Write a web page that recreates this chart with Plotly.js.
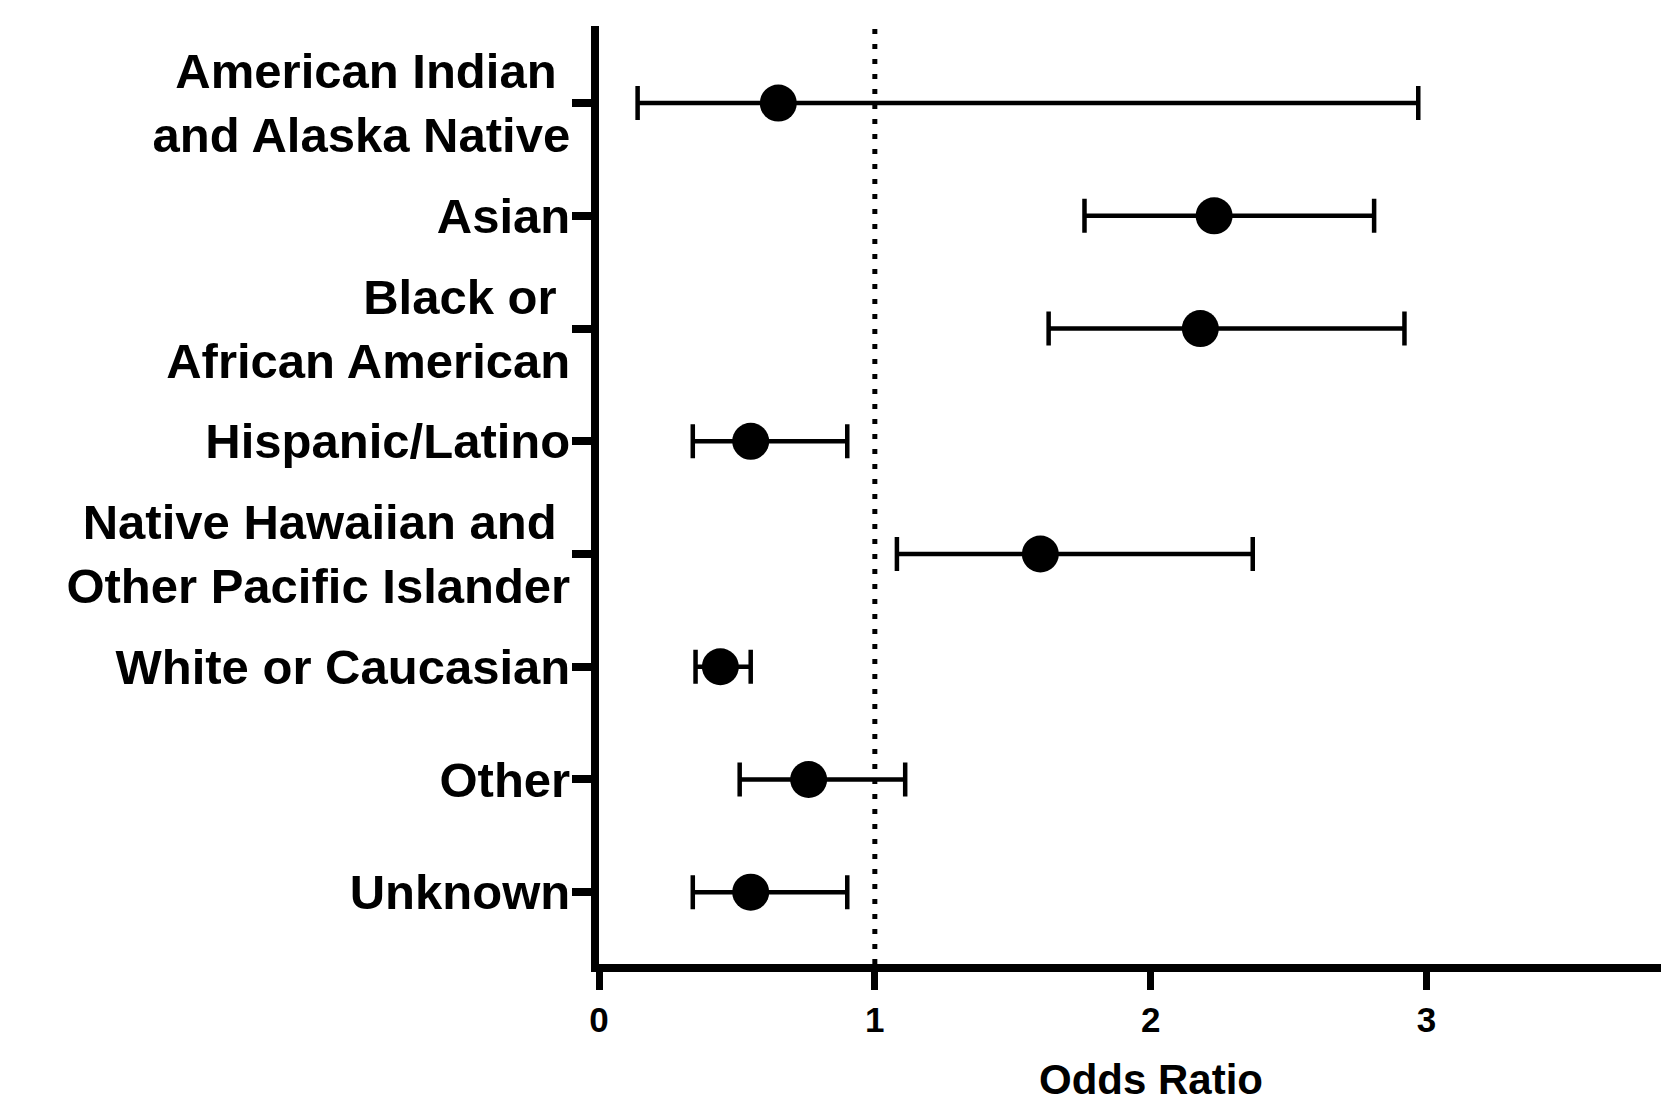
<!DOCTYPE html>
<html>
<head>
<meta charset="utf-8">
<script src="https://cdn.plot.ly/plotly-3.0.1.min.js"></script>
<style>html,body{margin:0;padding:0;background:#fff;}#chart{width:1661px;height:1112px;}</style>
</head>
<body>
<div id="chart"></div>
<script>
// ---- data ----
const categories = [
  "American Indian\u00a0<br>and Alaska Native",
  "Asian",
  "Black or\u00a0<br>African American",
  "Hispanic/Latino",
  "Native Hawaiian and\u00a0<br>Other Pacific Islander",
  "White or Caucasian",
  "Other",
  "Unknown"
];
const oddsRatio = [0.65, 2.23, 2.18, 0.55, 1.60, 0.44, 0.76, 0.55];
const ciLower   = [0.14, 1.76, 1.63, 0.34, 1.08, 0.35, 0.51, 0.34];
const ciUpper   = [2.97, 2.81, 2.92, 0.90, 2.37, 0.55, 1.11, 0.90];
const xTicks = [0, 1, 2, 3];
const refLine = 1;
const xTitle = "Odds Ratio";

const positions = categories.map((_, i) => i);
const errPlus = oddsRatio.map((v, i) => ciUpper[i] - v);
const errMinus = oddsRatio.map((v, i) => v - ciLower[i]);

const FONT = "Liberation Sans, Arial, Helvetica, sans-serif";

const trace = {
  type: "scatter",
  mode: "markers",
  x: oddsRatio,
  y: positions,
  marker: {color: "#000", size: 37, symbol: "circle"},
  error_x: {
    type: "data", symmetric: false,
    array: errPlus, arrayminus: errMinus,
    color: "#000", thickness: 4.5, width: 17
  },
  hoverinfo: "skip",
  showlegend: false,
  cliponaxis: false
};

const layout = {
  width: 1661, height: 1112,
  paper_bgcolor: "#fff", plot_bgcolor: "#fff",
  margin: {l: 599, r: 0, t: 26, b: 148},
  xaxis: {
    range: [0, 3.85],
    tickvals: xTicks,
    ticktext: xTicks.map(String),
    showgrid: false, zeroline: false,
    showline: true, linecolor: "#000", linewidth: 8,
    ticks: "outside", ticklen: 18, tickwidth: 7, tickcolor: "#000",
    tickfont: {family: FONT, size: 35, color: "#000", weight: 700},
    fixedrange: true
  },
  yaxis: {
    range: [7.637, -0.684],
    tickvals: positions,
    ticktext: categories,
    showgrid: false, zeroline: false,
    showline: true, linecolor: "#000", linewidth: 8,
    ticks: "outside", ticklen: 19, tickwidth: 8, tickcolor: "#000",
    ticklabelstandoff: -8,
    tickfont: {family: FONT, size: 49, color: "#000", weight: 700},
    fixedrange: true
  },
  shapes: [{
    type: "line", xref: "x", yref: "paper",
    x0: refLine, x1: refLine, y0: 0, y1: 1,
    line: {color: "#000", width: 5, dash: "5px,10px"},
    layer: "below"
  }],
  annotations: [{
    text: xTitle, xref: "x", yref: "paper",
    x: 2, y: 0, yanchor: "top", xanchor: "center",
    yshift: -90, showarrow: false,
    font: {family: FONT, size: 42, color: "#000", weight: 700}
  }]
};

Plotly.newPlot("chart", [trace], layout, {displayModeBar: false, staticPlot: true});
</script>
</body>
</html>
